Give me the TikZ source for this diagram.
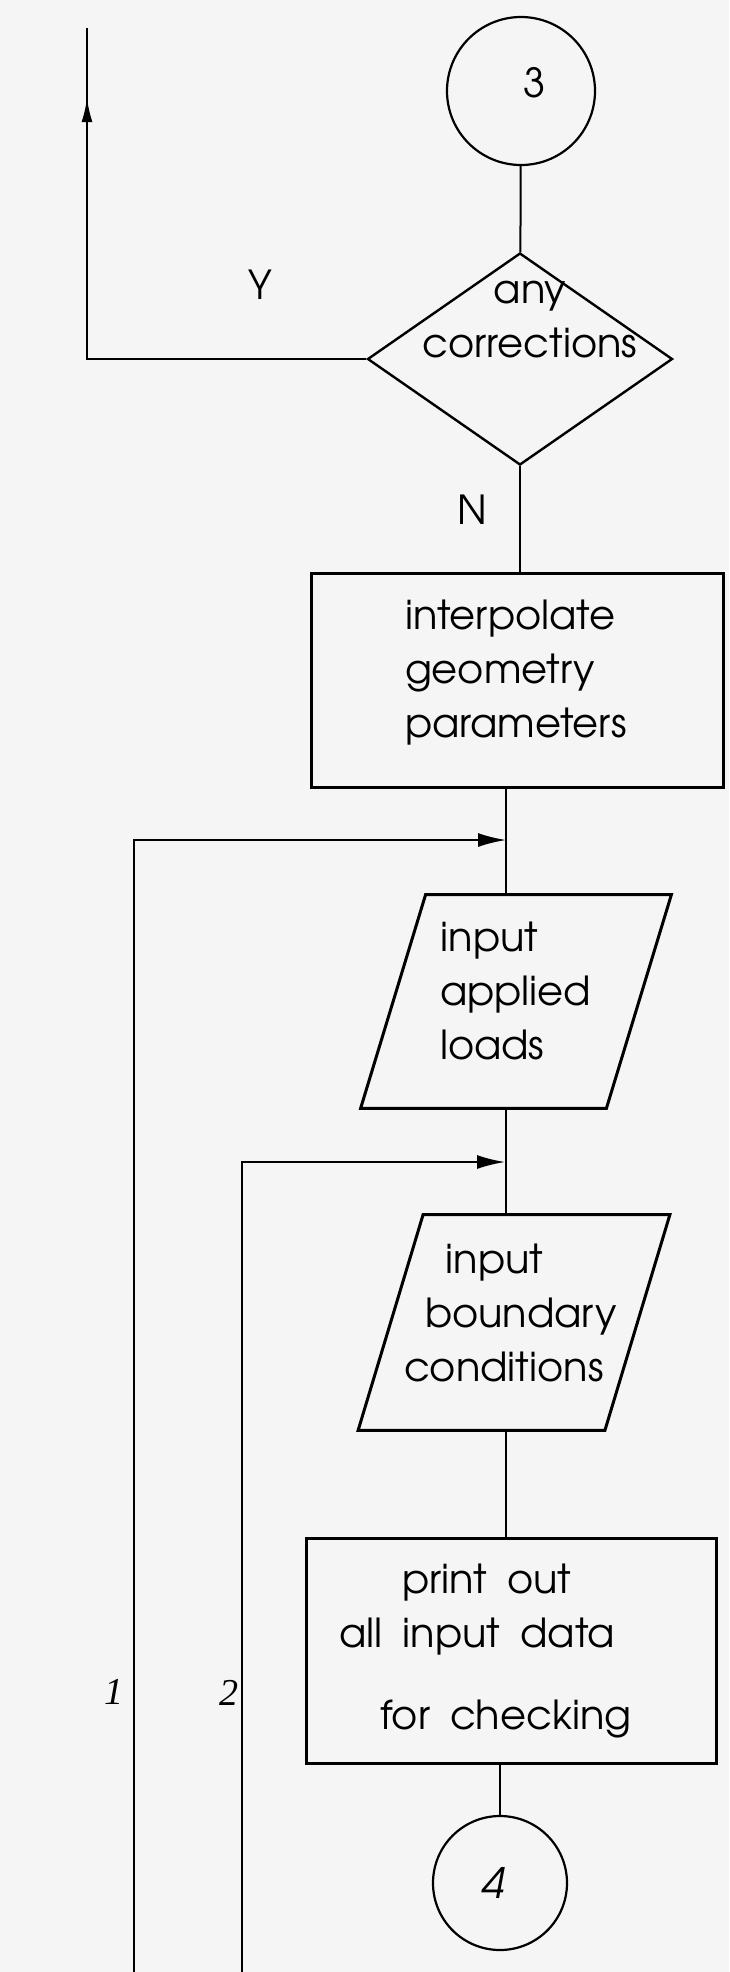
\documentclass[tikz,border=0pt]{standalone}
\usepackage{fontspec}
\setmainfont{texgyreadventor-regular.otf}
\newfontfamily\tnr{Liberation Serif}
\newfontfamily\advit{texgyreadventor-italic.otf}
\newcommand{\wsp}{\hspace{10pt}}
\usetikzlibrary{shapes.geometric,arrows.meta,calc,decorations.markings}
\begin{document}
\begin{tikzpicture}[x=0.5pt,y=-0.5pt]
\tikzset{
  conn/.style={line width=1pt},
  body/.style={font=\fontsize{20}{27}\selectfont},
  procbox/.style={body, draw, line width=1.5pt, rectangle, inner sep=0pt, align=left},
  iobox/.style={body, inner sep=0pt, align=left},
  iooutline/.style={line width=1.5pt},
  conncirc/.style={circle, draw, line width=1.1pt, inner sep=0pt},
  decision/.style={diamond, draw, line width=1.2pt, inner sep=0pt},
  numlab/.style={font=\tnr\itshape\fontsize{19}{22}\selectfont},
  circnum/.style={font=\advit\fontsize{21}{24}\selectfont},
  arr/.style={-{Latex[length=14pt,width=7pt]}},
}
\fill[black!4] (0,0) rectangle (729,1972);
\useasboundingbox (0,0) rectangle (729,1972);

% shapes
\node[conncirc, minimum size=74pt,
      label={[body, xshift=7pt, yshift=4pt]center:3}] (c3) at (521,91) {};
\node[decision, minimum width=152.5pt, minimum height=106pt,
      label={[body, align=center, xshift=5pt, yshift=19.5pt]center:any\\corrections}] (dec) at (520,359) {};
\node[procbox, minimum width=206pt, minimum height=107pt, text width=112pt] (r1) at (517,680)
  {interpolate\\geometry\\parameters\\[-16pt]\mbox{}};
\node[iobox, minimum width=122.5pt, minimum height=106.5pt, text width=76pt] (p1) at (516,1001.5)
  {input\\applied\\loads\\[-16pt]\mbox{}};
\draw[iooutline] ($(p1.north west)+(32.5,0)$) -- ($(p1.north east)+(32.5,0)$)
  -- ($(p1.south east)+(-32.5,0)$) -- ($(p1.south west)+(-32.5,0)$) -- cycle;
\node[iobox, minimum width=123pt, minimum height=107.5pt, text width=110pt] (p2) at (514,1322.5)
  {\hspace*{20.5pt}input\\\hspace*{10.5pt}boundary\\conditions\\[-17pt]\mbox{}};
\draw[iooutline] ($(p2.north west)+(32.5,0)$) -- ($(p2.north east)+(32.5,0)$)
  -- ($(p2.south east)+(-32.5,0)$) -- ($(p2.south west)+(-32.5,0)$) -- cycle;
\node[procbox, minimum width=205pt, minimum height=112.5pt, text width=172pt] (r2) at (511,1650.5)
  {\hspace*{31.5pt}print\wsp out\\all\wsp input\wsp data\\[14pt]\hspace*{20.5pt}for\wsp checking};
\node[conncirc, minimum size=67pt,
      label={[circnum, xshift=-3.5pt]center:4}] (c4) at (500,1883) {};

% labels
\node[body] (ylab) at (260,285) {Y};
\node[body] (nlab) at (472,510) {N};
\node[numlab] (lab1) at (114,1692) {1};
\node[numlab] (lab2) at (229,1693) {2};

% coordinates
\coordinate (axis) at (506,0);
\coordinate (ytop) at (87,28);
\coordinate (l1b) at (134,1972);
\coordinate (j1) at (506,840);
\coordinate (l2b) at (242,1972);
\coordinate (j2) at (505,1162);

% connectors
\draw[conn] (c3) -- (dec);
\draw[conn, postaction={decorate}, decoration={markings,
      mark=at position 0.885 with {\arrow{Latex[length=12pt,width=5.5pt]}}}]
  (dec.west) -| (ytop);
\draw[conn] (dec.south) -- (dec.south |- r1.north);
\draw[conn] (r1.south -| axis) -- (p1.north -| axis);
\draw[conn] (p1.south -| axis) -- (p2.north -| axis);
\draw[conn] (p2.south -| axis) -- (r2.north -| axis);
\draw[conn] (r2.south -| c4) -- (c4.north);
\draw[conn, arr] (l1b) |- (j1);
\draw[conn, arr] (l2b) |- (j2);
\end{tikzpicture}
\end{document}
